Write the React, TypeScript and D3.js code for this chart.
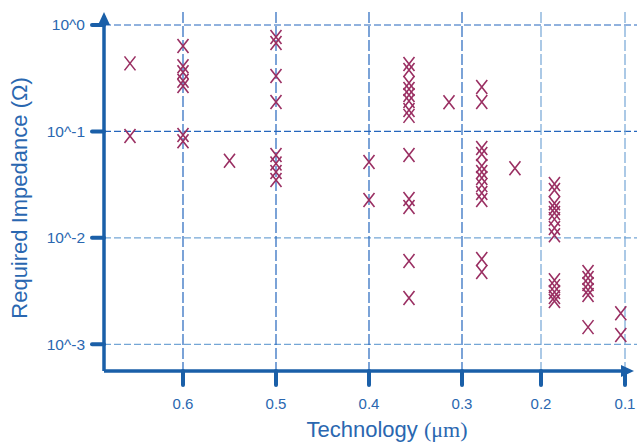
import React from 'react';
import * as d3 from 'd3';

// technology nodes (um) and the impedance values read for each column
const xTickValues = [0.6, 0.5, 0.4, 0.3, 0.2, 0.1];
const yTickValues = [1e-3, 1e-2, 1e-1, 1];
const yTickLabels = ['10^-3', '10^-2', '10^-1', '10^0'];

const techNodes = [0.657, 0.6, 0.55, 0.5, 0.4, 0.357, 0.314, 0.275, 0.233, 0.184, 0.144, 0.105];
const impedances = [
  [0.436, 0.0906],
  [0.635, 0.41, 0.36, 0.30, 0.267, 0.0925, 0.081],
  [0.053],
  [0.77, 0.677, 0.332, 0.189, 0.060, 0.050, 0.0416, 0.035],
  [0.0515, 0.0227],
  [0.43, 0.378, 0.285, 0.25, 0.22, 0.193, 0.159, 0.14, 0.060, 0.0232, 0.0195, 0.00605, 0.00272],
  [0.188],
  [0.261, 0.189, 0.0698, 0.0613, 0.0473, 0.0415, 0.0365, 0.0313, 0.0264, 0.0227, 0.00632, 0.00477],
  [0.045],
  [0.032, 0.0281, 0.0212, 0.019, 0.0171, 0.015, 0.0124, 0.0106, 0.004, 0.00352, 0.0031, 0.00278, 0.00255],
  [0.00477, 0.00419, 0.00368, 0.00323, 0.0029, 0.00145],
  [0.00196, 0.00122],
];

const axisColor = '#1a5fa8';
const textColor = '#2a67b0';
const darkGrid = '#2466bd';
const lightGrid = '#74a6d6';
const markColor = '#9a2f62';

export default function App() {
  const width = 637;
  const height = 443;
  const left = 104;
  const bottom = 371;
  const top = 12;
  const right = 634;

  // the original axis is not evenly spaced, so a piecewise scale
  const x = d3.scaleLinear()
    .domain(xTickValues)
    .range([183, 276, 369, 462, 541, 625]);
  const y = d3.scaleLog().domain([1e-3, 1]).range([344.3, 25]);

  const points = techNodes.flatMap((t, i) => impedances[i].map(v => ({ t, v })));

  const font = 'Liberation Sans, Arial, sans-serif';

  return (
    <svg width={width} height={height} style={{ position: 'absolute', left: 0, top: 0 }}>
      <rect width={width} height={height} fill="#fff" />

      {yTickValues.map((v, i) => (
        <line key={'gy' + i} x1={left} x2={width} y1={y(v)} y2={y(v)}
          stroke={v >= 0.1 ? darkGrid : lightGrid} strokeWidth={1.2} strokeDasharray="7,3" />
      ))}
      {xTickValues.map((v, i) => (
        <line key={'gx' + i} x1={x(v)} x2={x(v)} y1={top} y2={bottom}
          stroke={v >= 0.3 ? darkGrid : lightGrid} strokeWidth={1.2} strokeDasharray="11,3" />
      ))}

      {points.map((p, i) => {
        const cx = x(p.t);
        const cy = y(p.v);
        return (
          <path key={'p' + i}
            d={`M${cx - 5.5},${cy - 7}L${cx + 5.5},${cy + 7}M${cx + 5.5},${cy - 7}L${cx - 5.5},${cy + 7}`}
            stroke={markColor} strokeWidth={1.6} fill="none" />
        );
      })}

      {/* axes */}
      <line x1={left} x2={left} y1={bottom} y2={top + 12} stroke={axisColor} strokeWidth={3.5} />
      <path d={`M${left},${top}L${left - 6},${top + 13}L${left + 6},${top + 13}Z`} fill={axisColor} />
      <line x1={left} x2={right - 12} y1={bottom} y2={bottom} stroke={axisColor} strokeWidth={3.5} />
      <path d={`M${right},${bottom}L${right - 13},${bottom - 6}L${right - 13},${bottom + 6}Z`} fill={axisColor} />

      {yTickValues.map((v, i) => (
        <g key={'ty' + i}>
          <line x1={left - 12} x2={left} y1={y(v)} y2={y(v)} stroke={axisColor} strokeWidth={4} strokeLinecap="round" />
          <text x={left - 19} y={y(v)} dy="0.35em" textAnchor="end" fill={textColor}
            fontFamily={font} fontSize={15.5}>{yTickLabels[i]}</text>
        </g>
      ))}
      {xTickValues.map((v, i) => (
        <g key={'tx' + i}>
          <line x1={x(v)} x2={x(v)} y1={bottom} y2={bottom + 14} stroke={axisColor} strokeWidth={4} strokeLinecap="round" />
          <text x={x(v)} y={bottom + 38} textAnchor="middle" fill={textColor}
            fontFamily={font} fontSize={15}>{v}</text>
        </g>
      ))}

      <text x={387} y={437} textAnchor="middle" fill={textColor} fontFamily={font} fontSize={22}>
        Technology <tspan fontFamily="Liberation Serif, Times New Roman, serif">(μm)</tspan>
      </text>
      <text transform={`translate(27,${198}) rotate(-90)`} textAnchor="middle" fill={textColor}
        fontFamily={font} fontSize={22}>Required Impedance (Ω)</text>
    </svg>
  );
}
